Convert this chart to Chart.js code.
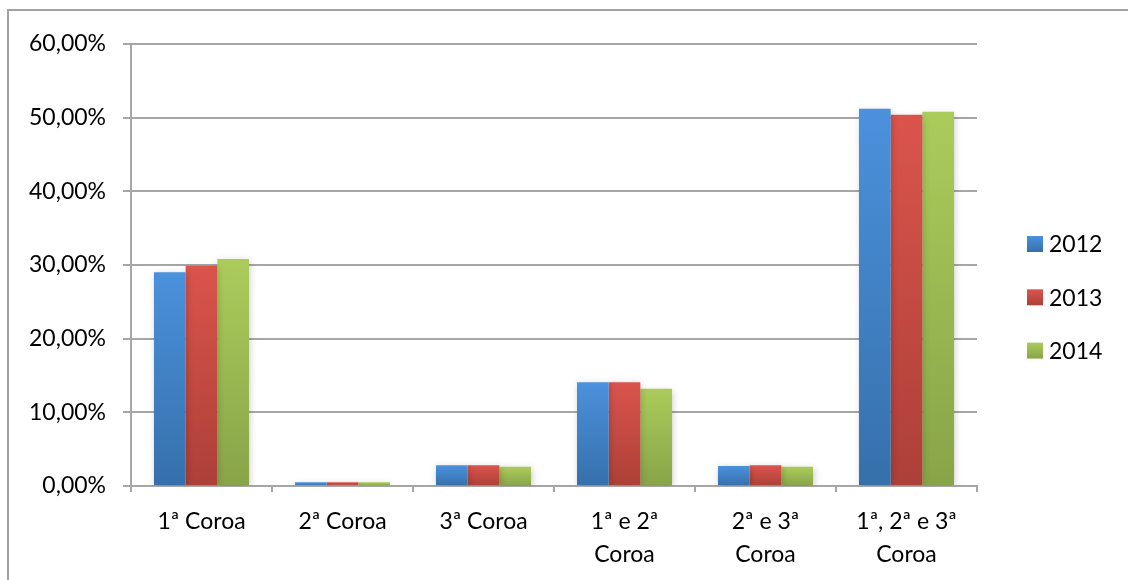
<!DOCTYPE html>
<html>
<head>
<meta charset="utf-8">
<script src="https://cdn.jsdelivr.net/npm/chart.js@4.4.1/dist/chart.umd.min.js"></script>
<style>
  html, body { margin: 0; padding: 0; background: #ffffff; }
  #wrap { width: 1128px; height: 580px; position: relative; }
</style>
</head>
<body>
<div id="wrap"><canvas id="c" width="1128" height="580"></canvas></div>
<script>
// Categories (multi-line labels) and yearly shares in percent
const categories = [
  ['1ª Coroa'],
  ['2ª Coroa'],
  ['3ª Coroa'],
  ['1ª e 2ª', 'Coroa'],
  ['2ª e 3ª', 'Coroa'],
  ['1ª, 2ª e 3ª', 'Coroa']
];
const seriesNames = ['2012', '2013', '2014'];
const values2012 = [29.0, 0.5, 2.8, 14.1, 2.7, 51.2];
const values2013 = [29.9, 0.5, 2.8, 14.1, 2.8, 50.4];
const values2014 = [30.8, 0.5, 2.6, 13.2, 2.6, 50.8];
const yTicks = [0, 10, 20, 30, 40, 50, 60];

// top / bottom colours of each series' vertical gradient
const palette = [
  ['#4b91dc', '#3670ab'],
  ['#db544c', '#ac4038'],
  ['#abcc5b', '#88a448']
];

const FONT = 'Lato, "Open Sans", sans-serif';

function barGradient(seriesIdx) {
  return function (ctx) {
    const chart = ctx.chart;
    const area = chart.chartArea;
    if (!area || ctx.type !== 'data') return palette[seriesIdx][0];
    const y = chart.scales.y;
    const top = y.getPixelForValue(ctx.raw);
    const bottom = y.getPixelForValue(0);
    const g = chart.ctx.createLinearGradient(0, top, 0, bottom + 0.01);
    g.addColorStop(0, palette[seriesIdx][0]);
    g.addColorStop(1, palette[seriesIdx][1]);
    return g;
  };
}

// frame around the drawing (left and top edges)
const framePlugin = {
  id: 'frame',
  beforeDraw(chart) {
    const c = chart.ctx;
    c.save();
    c.strokeStyle = '#a2a2a2';
    c.lineWidth = 2;
    c.beginPath();
    c.moveTo(8, 580);
    c.lineTo(8, 10);
    c.lineTo(1128, 10);
    c.stroke();
    c.restore();
  }
};

// soft shadow behind the columns
const shadowPlugin = {
  id: 'barShadow',
  beforeDatasetsDraw(chart) {
    const c = chart.ctx;
    c.save();
    c.shadowColor = 'rgba(0,0,0,0.22)';
    c.shadowBlur = 7;
    c.shadowOffsetX = 1;
    c.shadowOffsetY = 2;
  },
  afterDatasetsDraw(chart) {
    chart.ctx.restore();
  }
};

// legend column on the right side
const sideLegend = {
  id: 'sideLegend',
  afterDraw(chart) {
    const c = chart.ctx;
    const x = 1027, y0 = 236, step = 53.3, box = 16;
    c.save();
    chart.data.datasets.forEach((ds, i) => {
      const y = y0 + i * step;
      const g = c.createLinearGradient(0, y, 0, y + box);
      g.addColorStop(0, palette[i][0]);
      g.addColorStop(1, palette[i][1]);
      c.fillStyle = g;
      c.fillRect(x, y, box, box);
      c.fillStyle = '#000000';
      c.font = '23px ' + FONT;
      c.textBaseline = 'middle';
      c.textAlign = 'left';
      c.fillText(ds.label, x + 22, y + box / 2 + 1);
    });
    c.restore();
  }
};

const datasets = [values2012, values2013, values2014].map((vals, i) => ({
  label: seriesNames[i],
  data: vals,
  backgroundColor: barGradient(i),
  borderWidth: 0,
  barPercentage: 1.0,
  categoryPercentage: 0.674
}));

new Chart(document.getElementById('c'), {
  type: 'bar',
  data: { labels: categories, datasets },
  plugins: [framePlugin, shadowPlugin, sideLegend],
  options: {
    responsive: false,
    animation: false,
    devicePixelRatio: 1,
    layout: { padding: { left: 0, right: 151, top: 44, bottom: 0 } },
    plugins: {
      legend: { display: false },
      tooltip: { enabled: false }
    },
    scales: {
      x: {
        afterFit(scale) { scale.height = 94; },
        grid: {
          display: true,
          drawOnChartArea: false,
          drawTicks: true,
          tickLength: 6,
          color: '#a6a6a6',
          lineWidth: 2,
          offset: true
        },
        border: { display: true, color: '#a6a6a6', width: 2 },
        ticks: {
          color: '#000000',
          padding: 13,
          maxRotation: 0,
          autoSkip: false,
          font: { family: FONT, size: 23, lineHeight: 1.43 }
        }
      },
      y: {
        min: 0,
        max: 60,
        afterFit(scale) { scale.width = 131; },
        afterBuildTicks(scale) { scale.ticks = yTicks.map(v => ({ value: v })); },
        grid: {
          color: '#a6a6a6',
          lineWidth: 2,
          tickLength: 8,
          drawTicks: true
        },
        border: { display: true, color: '#a6a6a6', width: 2 },
        ticks: {
          color: '#000000',
          padding: 17,
          font: { family: FONT, size: 23 },
          callback: v => v.toFixed(2).replace('.', ',') + '%'
        }
      }
    }
  }
});
</script>
</body>
</html>
